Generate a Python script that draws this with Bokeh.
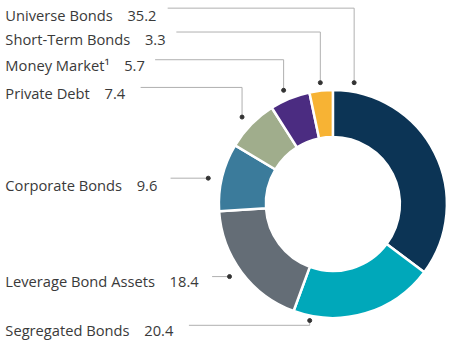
import numpy as np
from bokeh.plotting import figure
from bokeh.models import Range1d, ColumnDataSource
from bokeh.embed import file_html
from bokeh.resources import INLINE
from bokeh.core.properties import value

# ---- data ----
categories = ["Universe Bonds", "Segregated Bonds", "Leverage Bond Assets",
              "Corporate Bonds", "Private Debt", "Money Market\u00b9", "Short-Term Bonds"]
shares = [35.2, 20.4, 18.4, 9.6, 7.4, 5.7, 3.3]
share_labels = ["35.2", "20.4", "18.4", "9.6", "7.4", "5.7", "3.3"]
colors = ["#0c3455", "#00a8ba", "#646d76", "#3b7b9b", "#a0ad8c", "#4b2c81", "#f7b334"]

# ---- layout (reference pixel coordinates, y downward) ----
cx, cy = 344, 213
label_x = 5
label_base = [15, 345, 294, 193, 97, 67, 40]
leader_paths = [
    [(173, 8), (366, 8), (366, 86)],
    [(195, 340), (320, 340), (320, 335)],
    [(219, 289), (237, 289)],
    [(176, 186), (215, 186)],
    [(145, 91), (250, 91), (250, 122)],
    [(160, 62), (293, 62), (293, 94)],
    [(182, 33), (331, 33), (331, 86)],
]

total = sum(shares)
cum = np.concatenate([[0], np.cumsum(shares)]) / total
start = np.pi / 2 - 2 * np.pi * cum[:-1]
end = np.pi / 2 - 2 * np.pi * cum[1:]

p = figure(width=458, height=342, output_backend="svg", toolbar_location=None,
           x_range=Range1d(0, 474), y_range=Range1d(-358, 0), min_border=0)
p.axis.visible = False
p.grid.visible = False
p.outline_line_color = None
p.background_fill_color = "white"
p.border_fill_color = "white"

src = ColumnDataSource(dict(x=[cx] * len(shares), y=[-cy] * len(shares),
                            start=start, end=end, color=colors))
p.annular_wedge(x="x", y="y", inner_radius=67, outer_radius=114,
                inner_radius_units="screen", outer_radius_units="screen",
                start_angle="start", end_angle="end", direction="clock",
                fill_color="color", line_color="white", line_width=2.5, source=src)

xs = [[pt[0] for pt in path] for path in leader_paths]
ys = [[-pt[1] for pt in path] for path in leader_paths]
p.multi_line(xs=xs, ys=ys, line_color="#b0b0b0", line_width=1)
p.scatter(x=[path[-1][0] for path in leader_paths], y=[-path[-1][1] for path in leader_paths],
          size=4, color="#333333")

texts = [f"{c}\u2002\u2002{v}" for c, v in zip(categories, share_labels)]
p.text(x=[label_x] * len(texts), y=[-b for b in label_base], text=texts,
       text_font=value("Open Sans"), text_font_size="14.7px", text_color="#3a3a3a",
       text_baseline="alphabetic", text_align="left")

open("out.html", "w").write(file_html(p, INLINE))
